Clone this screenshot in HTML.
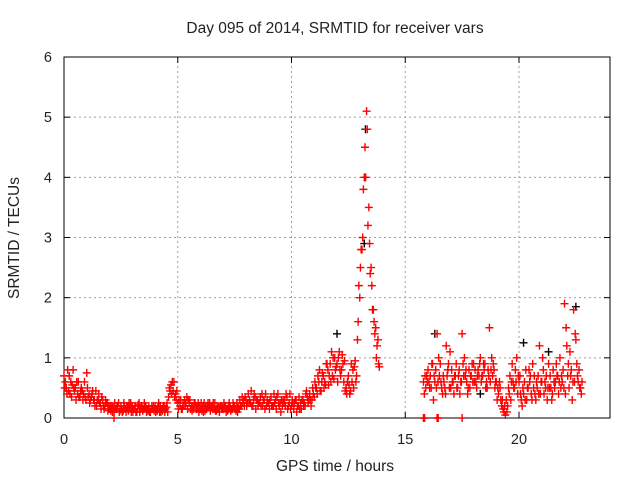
<!DOCTYPE html>
<html><head><meta charset="utf-8"><style>
body{margin:0;background:#fff}
svg{display:block;font-family:"Liberation Sans",sans-serif;font-size:14.5px;fill:#222}
</style></head><body>
<svg id="c" width="640" height="480">
<text x="335" y="33" text-anchor="middle" font-size="15.5">Day 095 of 2014, SRMTID for receiver vars</text>
<text x="335" y="471" text-anchor="middle" font-size="15.5">GPS time / hours</text>
<text transform="translate(19,238) rotate(-90)" text-anchor="middle" font-size="15.5">SRMTID / TECUs</text>
<g id="grid"></g><g id="axes"></g><g id="marks"></g>
</svg>
<script>
const xTicks=[0,5,10,15,20];
const yTicks=[0,1,2,3,4,5,6];
const segAStart=0, segBStart=15.8, stepH=0.1;
const segA1=[0.7,0.5,0.45,0.6,0.8,0.5,0.4,0.35,0.45,0.6,0.75,0.4,0.35,0.3,0.45,0.3,0.25,0.3,0.2,0.25,0.15,0.2,0.1,0.15,0.25,0.2,0.12,0.15,0.2,0.18,0.2,0.15,0.1,0.25,0.2,0.15,0.18,0.12,0.1,0.15,0.2,0.12,0.1,0.15,0.2,0.18,0.35,0.55,0.45,0.4,0.25,0.2,0.15,0.3,0.35,0.25,0.2,0.15,0.2,0.25,0.15,0.2,0.12,0.18,0.25,0.2,0.15,0.12,0.18,0.2,0.15,0.2,0.12,0.18,0.15,0.2,0.25,0.15,0.2,0.3,0.3,0.4,0.25,0.2,0.35,0.3,0.25,0.4,0.3,0.2,0.25,0.35,0.2,0.3,0.4,0.25,0.2,0.3,0.35,0.25,0.2,0.15,0.3,0.2,0.25,0.3,0.2,0.35,0.4,0.3,0.35,0.5,0.6,0.45,0.7,0.55,0.8,0.9,0.7,1.0,0.9,1.1,0.8,0.6,0.5,0.7,0.45,0.8,0.95,1.3,2.0,2.8,4.0,5.1,3.5,2.5,1.8,1.5,1.3];
const segA2=[0.5,0.4,0.7,0.35,0.5,0.3,0.6,0.45,0.3,0.35,0.5,0.25,0.4,0.3,0.2,0.4,0.15,0.2,0.3,0.12,0.2,0.1,0.25,0.2,0.1,0.15,0.25,0.1,0.12,0.25,0.1,0.2,0.15,0.1,0.18,0.25,0.1,0.2,0.15,0.2,0.1,0.18,0.2,0.12,0.1,0.25,0.5,0.4,0.6,0.3,0.15,0.3,0.25,0.2,0.15,0.3,0.12,0.25,0.15,0.1,0.25,0.1,0.2,0.25,0.12,0.15,0.25,0.2,0.1,0.15,0.25,0.1,0.2,0.12,0.25,0.15,0.1,0.3,0.35,0.2,0.2,0.25,0.45,0.3,0.15,0.2,0.35,0.2,0.15,0.3,0.15,0.2,0.4,0.15,0.25,0.1,0.3,0.2,0.15,0.4,0.3,0.25,0.1,0.35,0.15,0.2,0.4,0.25,0.3,0.5,0.6,0.4,0.8,0.6,0.5,0.9,0.55,0.6,1.0,0.8,0.6,0.8,1.05,0.95,0.4,0.55,0.9,0.5,0.6,1.6,2.5,3.0,4.5,4.8,2.9,2.2,1.6,1.0,0.9];
const segA3=[0.6,0.8,0.4,0.55,0.45,0.6,0.35,0.5,0.4,0.3,0.35,0.3,0.45,0.2,0.3,0.25,0.35,0.15,0.25,0.2,0.12,0.18,0.15,0.2,0.12,0.1,0.2,0.18,0.25,0.1,0.15,0.1,0.22,0.15,0.12,0.2,0.15,0.1,0.2,0.12,0.15,0.25,0.1,0.2,0.15,0.1,0.45,0.6,0.35,0.45,0.3,0.15,0.2,0.25,0.3,0.15,0.2,0.25,0.18,0.2,0.12,0.25,0.15,0.2,0.18,0.25,0.12,0.15,0.2,0.18,0.2,0.15,0.25,0.15,0.2,0.12,0.18,0.2,0.25,0.35,0.25,0.3,0.2,0.4,0.3,0.25,0.2,0.3,0.4,0.25,0.3,0.2,0.25,0.35,0.2,0.3,0.25,0.4,0.2,0.15,0.25,0.3,0.2,0.15,0.3,0.25,0.45,0.3,0.2,0.4,0.5,0.7,0.45,0.75,0.6,0.9,0.7,1.1,0.65,0.85,1.0,0.7,0.9,0.45,0.6,0.4,0.6,0.85,0.7,2.2,2.8,3.8,4.0,3.2,2.4,1.8,1.4,1.2,0.85];
const segB1=[0.6,0.5,0.8,0.7,0.9,0.6,1.4,0.7,0.5,0.6,1.2,0.9,0.5,0.6,0.7,0.5,0.4,1.4,1.0,0.6,0.8,0.7,0.9,0.6,0.8,1.0,0.7,0.9,0.5,1.5,1.0,0.8,0.6,0.4,0.3,0.15,0.05,0.2,0.7,0.9,0.5,1.0,0.6,0.3,0.4,0.8,0.5,0.7,0.9,0.4,0.5,1.2,0.6,0.4,0.7,0.9,0.5,0.8,0.6,0.7,1.0,0.6,1.9,1.2,0.5,0.8,1.8,1.3,0.6,0.5];
const segB2=[0.4,0.7,0.6,0.5,0.3,0.8,0.6,0.9,0.4,0.5,0.7,0.5,0.8,0.4,0.9,0.7,0.6,0.9,0.7,0.4,0.5,0.9,0.6,0.5,0.7,0.6,0.9,0.5,0.8,0.6,0.7,0.5,0.3,0.6,0.2,0.1,0.3,0.5,0.3,0.6,0.8,0.4,0.7,0.2,0.6,0.3,0.8,0.4,0.5,0.3,0.7,0.4,1.0,0.6,0.3,0.5,0.3,0.6,0.9,0.4,0.5,0.8,0.4,0.7,1.1,0.3,0.6,0.9,0.8,0.4];
const segB3=[0.7,0.6,0.5,0.9,0.7,0.5,1.0,0.6,0.7,0.4,0.8,1.1,0.6,0.7,0.5,0.8,0.6,0.7,0.8,0.5,0.7,0.6,0.8,0.7,0.9,0.7,0.8,0.6,0.7,0.8,0.9,0.6,0.5,0.5,0.3,0.2,0.1,0.4,0.6,0.5,0.6,0.7,0.4,0.5,0.3,0.5,0.6,0.3,0.7,0.6,0.4,0.6,0.8,0.5,0.5,0.7,0.4,0.5,0.7,0.6,0.7,0.5,1.5,0.9,0.7,0.6,1.4,0.7,0.5,0.6];
const blackT=[12.0,13.2,13.25,16.3,20.2,22.5,18.3,21.3];
const blackV=[1.4,2.9,4.8,1.4,1.25,1.85,0.4,1.1];
const zeroT=[2.2,15.8,15.85,16.4,16.45,17.5];

const X0=64,X1=610,Y0=418,Y1=57,XMAX=24,YMAX=6;
const xs=t=>X0+t/XMAX*(X1-X0), ys=v=>Y0-v/YMAX*(Y0-Y1);
const NS='http://www.w3.org/2000/svg';
function mk(tag,attrs,parent){const e=document.createElementNS(NS,tag);for(const k in attrs)e.setAttribute(k,attrs[k]);parent.appendChild(e);return e;}
const grid=document.getElementById('grid'),axes=document.getElementById('axes'),marks=document.getElementById('marks');
xTicks.forEach(t=>{const x=xs(t);
 if(t>0){const g=mk('line',{x1:x,x2:x,y1:Y0,y2:Y1,stroke:'#a0a0a0','stroke-dasharray':'2,3'},grid);}
 mk('line',{x1:x,x2:x,y1:Y0,y2:Y0-6,stroke:'#000'},axes);mk('line',{x1:x,x2:x,y1:Y1,y2:Y1+6,stroke:'#000'},axes);
 const l=mk('text',{x:x,y:Y0+26,'text-anchor':'middle'},axes);l.textContent=t;
 
 });
yTicks.forEach(v=>{const y=ys(v);
 if(v>0&&v<YMAX){const g=mk('line',{x1:X0,x2:X1,y1:y,y2:y,stroke:'#a0a0a0','stroke-dasharray':'2,3'},grid);}
 mk('line',{x1:X0,x2:X0+6,y1:y,y2:y,stroke:'#000'},axes);mk('line',{x1:X1,x2:X1-6,y1:y,y2:y,stroke:'#000'},axes);
 const l=mk('text',{x:X0-12,y:y+5,'text-anchor':'end'},axes);l.textContent=v;
 
 });
const fr=mk('rect',{x:X0,y:Y1,width:X1-X0,height:Y0-Y1,fill:'none',stroke:'#000'},axes);


function plus(t,v,col){const x=xs(t),y=ys(v);
 const p=mk('path',{d:`M${x-4} ${y}H${x+4}M${x} ${y-4}V${y+4}`,stroke:col,'stroke-width':1.4,fill:'none'},marks);
 
 }
blackT.forEach((t,i)=>plus(t,blackV[i],'#000'));
segA1.forEach((v,i)=>plus(segAStart+i*stepH,v,'#f00'));
segA2.forEach((v,i)=>plus(segAStart+i*stepH+0.03,v,'#f00'));
segA3.forEach((v,i)=>plus(segAStart+i*stepH+0.06,v,'#f00'));
segB1.forEach((v,i)=>plus(segBStart+i*stepH,v,'#f00'));
segB2.forEach((v,i)=>plus(segBStart+i*stepH+0.04,v,'#f00'));
segB3.forEach((v,i)=>plus(segBStart+i*stepH+0.07,v,'#f00'));
zeroT.forEach(t=>plus(t,0,'#f00'));
</script>
</body></html>
